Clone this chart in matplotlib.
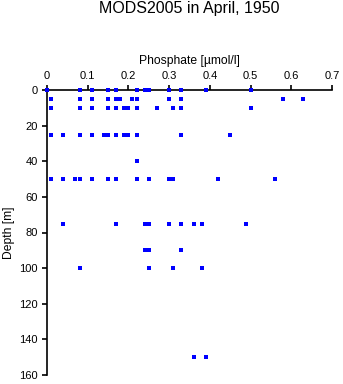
import matplotlib
matplotlib.use("Agg")
import matplotlib.pyplot as plt
import numpy as np

plt.rcParams['font.family'] = ['Liberation Sans', 'DejaVu Sans']

# phosphate samples per standard depth
depths = [0, 5, 10, 25, 40, 50, 75, 90, 100, 150]
phosphate = [
    [0.0, 0.08, 0.11, 0.15, 0.17, 0.22, 0.24, 0.25, 0.30, 0.33, 0.39, 0.50],
    [0.01, 0.08, 0.11, 0.15, 0.17, 0.18, 0.21, 0.22, 0.30, 0.33, 0.58, 0.63],
    [0.01, 0.08, 0.11, 0.15, 0.17, 0.19, 0.20, 0.22, 0.27, 0.31, 0.33, 0.50],
    [0.01, 0.04, 0.08, 0.11, 0.14, 0.15, 0.17, 0.19, 0.20, 0.22, 0.33, 0.45],
    [0.22],
    [0.01, 0.04, 0.07, 0.08, 0.11, 0.15, 0.17, 0.22, 0.25, 0.30, 0.31, 0.42, 0.56],
    [0.04, 0.17, 0.24, 0.25, 0.30, 0.33, 0.36, 0.38, 0.49],
    [0.24, 0.25, 0.33],
    [0.08, 0.25, 0.31, 0.38],
    [0.36, 0.39],
]
xticks = [0, 0.1, 0.2, 0.3, 0.4, 0.5, 0.6, 0.7]
yticks = [0, 20, 40, 60, 80, 100, 120, 140, 160]

x = np.concatenate([np.array(p) for p in phosphate])
y = np.concatenate([np.full(len(p), d) for d, p in zip(depths, phosphate)])

fig = plt.figure(figsize=(3.43, 3.84), dpi=100)
ax = fig.add_axes([47/343, 9/384, 285/343, 285/384])
# markers above the spines so the surface samples stay visible
ax.plot(x, y, 's', color='#0000ff', markersize=2.4, markeredgewidth=0,
        clip_on=False, zorder=5)

ax.set_xlim(0, 0.7)
ax.set_ylim(160, 0)
ax.set_xticks(xticks)
ax.set_xticklabels(['0' if t == 0 else f'{t:g}' for t in xticks])
ax.set_yticks(yticks)
ax.xaxis.set_ticks_position('top')
ax.xaxis.set_label_position('top')
ax.spines['bottom'].set_visible(False)
ax.spines['right'].set_visible(False)
for s in ('top', 'left'):
    ax.spines[s].set_linewidth(1.2)
ax.tick_params(axis='both', labelsize=8, width=1.2, length=3.5, pad=3)
ax.set_xlabel('Phosphate [µmol/l]', fontsize=8.7, labelpad=5)
ax.set_ylabel('Depth [m]', fontsize=8.7, labelpad=3)

fig.text(189/343, 1 - 9/384, 'MODS2005 in April, 1950', ha='center', va='center', fontsize=11.5)

fig.savefig('out.png', dpi=100)
